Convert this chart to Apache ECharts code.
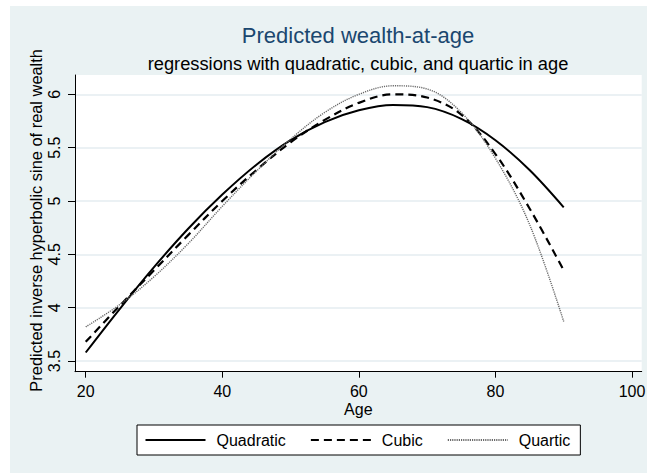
<!DOCTYPE html>
<html>
<head>
<meta charset="utf-8">
<script src="https://cdn.jsdelivr.net/npm/echarts@6/dist/echarts.min.js"></script>
<style>
html,body{margin:0;padding:0;background:#fff;}
#chart{width:647px;height:474px;}
</style>
</head>
<body>
<div id="chart"></div>
<script>
// ---- data ----
const ages = [20, 25, 30, 35, 40, 45, 50, 55, 60, 65, 70, 75, 80, 85, 90];
const quadratic = [3.58, 3.99, 4.38, 4.74, 5.06, 5.34, 5.57, 5.74, 5.85, 5.90, 5.88, 5.77, 5.57, 5.29, 4.94];
const cubic     = [3.68, 4.02, 4.35, 4.68, 5.00, 5.29, 5.55, 5.76, 5.92, 6.00, 5.97, 5.81, 5.44, 4.93, 4.35];
const quartic   = [3.82, 4.03, 4.29, 4.60, 4.95, 5.28, 5.58, 5.83, 6.00, 6.08, 6.05, 5.83, 5.40, 4.78, 3.87];
const xTicks = [20, 40, 60, 80, 100];
const yTicks = [3.5, 4, 4.5, 5, 5.5, 6];
const seriesNames = ['Quadratic', 'Cubic', 'Quartic'];
const titleText = 'Predicted wealth-at-age';
const subtitleText = 'regressions with quadratic, cubic, and quartic in age';
const xTitle = 'Age';
const yTitle = 'Predicted inverse hyperbolic sine of real wealth';

const FONT = '"Liberation Sans", Arial, sans-serif';
const pairs = arr => ages.map((a, i) => [a, arr[i]]);

const chart = echarts.init(document.getElementById('chart'), null, {renderer: 'svg'});
chart.setOption({
  backgroundColor: '#ffffff',
  animation: false,
  textStyle: {fontFamily: FONT},
  graphic: [{
    type: 'rect', z: -10, silent: true,
    shape: {x: 10, y: 6, width: 637, height: 467},
    style: {fill: '#EAF2F3'}
  }],
  title: [
    {text: titleText, left: 358, top: 24, textAlign: 'center', padding: 0,
     textStyle: {fontSize: 22, fontWeight: 'normal', color: '#1A476F', fontFamily: FONT}},
    {text: subtitleText, left: 358, top: 54, textAlign: 'center', padding: 0,
     textStyle: {fontSize: 18.3, fontWeight: 'normal', color: '#000', fontFamily: FONT}}
  ],
  grid: {left: 75, right: 5.3, top: 75, bottom: 102.3, show: true,
         backgroundColor: '#fff', borderWidth: 0, outerBoundsMode: 'none', containLabel: false},
  legend: {
    left: 137, top: 425, orient: 'horizontal',
    padding: [7, 10, 7, 7.5],
    itemWidth: 60, itemHeight: 14, itemGap: 24,
    borderColor: '#000', borderWidth: 1, backgroundColor: '#fff',
    itemStyle: {color: 'transparent', borderWidth: 0, opacity: 0},
    textStyle: {fontSize: 16, color: '#000', fontFamily: FONT, padding: [0, 0, 0, 6]},
    data: seriesNames
  },
  xAxis: {
    type: 'value', min: 18.43, max: 101.42,
    name: xTitle, nameLocation: 'middle', nameGap: 30, nameMoveOverlap: false,
    nameTextStyle: {fontSize: 16, color: '#000', fontFamily: FONT},
    axisLine: {show: true, onZero: false, lineStyle: {color: '#000', width: 1}},
    axisTick: {show: true, length: 6, customValues: xTicks, lineStyle: {color: '#000', width: 1}},
    axisLabel: {customValues: xTicks, fontSize: 16, color: '#000', margin: 12, fontFamily: FONT},
    splitLine: {show: false}
  },
  yAxis: {
    type: 'value', min: 3.40, max: 6.181,
    name: yTitle, nameLocation: 'middle', nameGap: 31, nameRotate: 90, nameMoveOverlap: false,
    nameTextStyle: {fontSize: 16.4, color: '#000', fontFamily: FONT, padding: [0, 0, 0, 6]},
    axisLine: {show: true, onZero: false, lineStyle: {color: '#000', width: 1}},
    axisTick: {show: true, length: 7, customValues: yTicks, lineStyle: {color: '#000', width: 1}},
    axisLabel: {customValues: yTicks, rotate: 90, hideOverlap: false, fontSize: 16, color: '#000', margin: 13, fontFamily: FONT},
    splitLine: {show: true, lineStyle: {color: '#E4EDF0', width: 1.5}}
  },
  series: [
    {name: seriesNames[0], type: 'line', data: pairs(quadratic), symbol: 'none', smooth: 0.35,
     lineStyle: {color: '#000', width: 2, type: 'solid'}, itemStyle: {color: '#000'}},
    {name: seriesNames[1], type: 'line', data: pairs(cubic), symbol: 'none', smooth: 0.35,
     lineStyle: {color: '#000', width: 2.2, type: [8, 5]}, itemStyle: {color: '#000'}},
    {name: seriesNames[2], type: 'line', data: pairs(quartic), symbol: 'none', smooth: 0.35,
     lineStyle: {color: '#6a6a6a', width: 1.4, type: [1.2, 1]}, itemStyle: {color: '#6a6a6a'}}
  ]
});
</script>
</body>
</html>
